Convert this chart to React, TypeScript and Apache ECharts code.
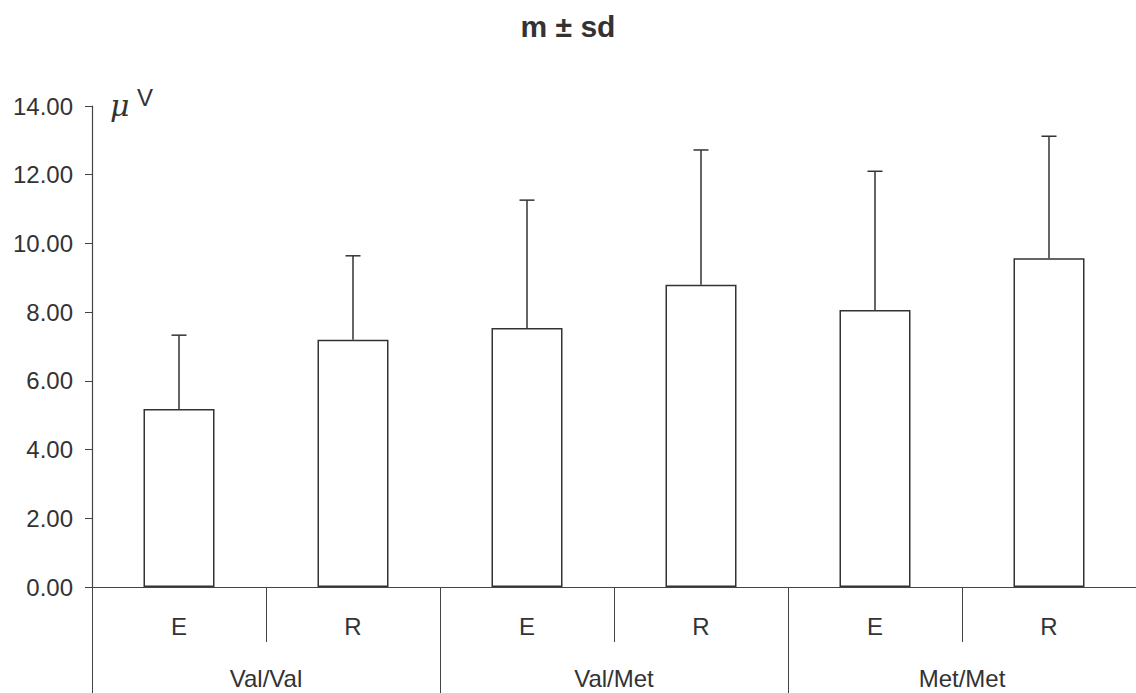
import React, { useEffect, useRef } from "react";
import * as echarts from "echarts";

const categories = ["E", "R", "E", "R", "E", "R"];
const groups = ["Val/Val", "Val/Met", "Met/Met"];
const means = [5.18, 7.2, 7.54, 8.8, 8.06, 9.57];
const sds = [2.15, 2.44, 3.72, 3.92, 4.04, 3.55];
const yTicks = { min: 0, max: 14, interval: 2 };
const title = "m ± sd";

const FONT = "'Liberation Sans', Arial, Helvetica, sans-serif";
const TEXT = "#333";
const LINE = "#444";

export default function App() {
  const ref = useRef<HTMLDivElement>(null);
  useEffect(() => {
    if (!ref.current) return;
    const chart = echarts.init(ref.current, undefined, { renderer: "svg" });
    const errData = means.map((m, i) => [i, m, m + sds[i]]);
    chart.setOption({
      animation: false,
      backgroundColor: "#fff",
      textStyle: { fontFamily: FONT },
      title: {
        text: title,
        left: "center",
        top: 6,
        textStyle: { fontSize: 30, fontWeight: "bold", color: TEXT, fontFamily: FONT },
      },
      grid: { left: 92, top: 106, width: 1047, height: 481, containLabel: false },
      xAxis: [
        {
          type: "category",
          data: categories,
          position: "bottom",
          axisLine: { show: true, lineStyle: { color: LINE, width: 1.2 } },
          axisTick: { show: true, length: 55, interval: 0, lineStyle: { color: LINE, width: 1 } },
          axisLabel: {
            interval: 0,
            margin: 39,
            verticalAlign: "middle",
            fontSize: 24,
            color: TEXT,
            fontFamily: FONT,
          },
        },
        {
          type: "category",
          data: groups,
          position: "bottom",
          axisLine: { show: false },
          axisTick: { show: true, length: 106, interval: 0, lineStyle: { color: LINE, width: 1 } },
          axisLabel: {
            interval: 0,
            margin: 91,
            verticalAlign: "middle",
            fontSize: 24,
            color: TEXT,
            fontFamily: FONT,
          },
        },
      ],
      yAxis: {
        type: "value",
        min: yTicks.min,
        max: yTicks.max,
        interval: yTicks.interval,
        splitLine: { show: false },
        axisLine: { show: true, lineStyle: { color: LINE, width: 1.2 } },
        axisTick: { show: true, length: 7, lineStyle: { color: LINE, width: 1 } },
        axisLabel: {
          margin: 19,
          fontSize: 24,
          color: TEXT,
          fontFamily: FONT,
          formatter: (v: number) => v.toFixed(2),
        },
      },
      graphic: [
        {
          type: "text",
          left: 110,
          top: 90,
          style: { text: "μ", fontSize: 30, fontStyle: "italic", fill: TEXT, fontFamily: "'DejaVu Serif', serif" },
        },
        {
          type: "text",
          left: 137,
          top: 85,
          style: { text: "V", fontSize: 24, fill: TEXT, fontFamily: FONT },
        },
      ],
      series: [
        {
          type: "bar",
          xAxisIndex: 0,
          data: means,
          barWidth: 71,
          itemStyle: { color: "#fff", borderColor: "#333", borderWidth: 1.5 },
        },
        {
          type: "custom",
          xAxisIndex: 0,
          data: errData,
          z: 3,
          renderItem: (params: any, api: any) => {
            const x = api.value(0);
            const base = api.coord([x, api.value(1)]);
            const top = api.coord([x, api.value(2)]);
            const half = 7.5;
            return {
              type: "group",
              children: [
                {
                  type: "line",
                  shape: { x1: base[0], y1: base[1], x2: top[0], y2: top[1] },
                  style: { stroke: "#333", lineWidth: 1.5 },
                },
                {
                  type: "line",
                  shape: { x1: top[0] - half, y1: top[1], x2: top[0] + half, y2: top[1] },
                  style: { stroke: "#333", lineWidth: 1.5 },
                },
              ],
            };
          },
        },
      ],
    });
    return () => chart.dispose();
  }, []);
  return (
    <div
      ref={ref}
      style={{ position: "fixed", left: 0, top: 0, width: 1136, height: 693, background: "#fff" }}
    />
  );
}
